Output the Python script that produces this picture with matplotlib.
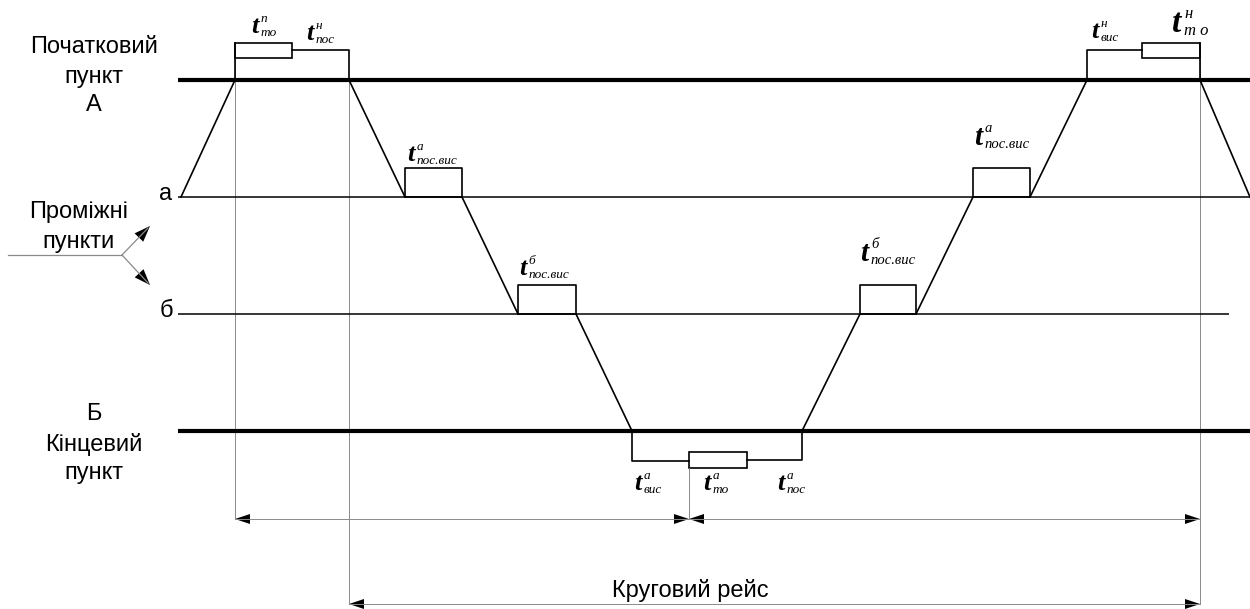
import matplotlib.pyplot as plt
from matplotlib.patches import Rectangle

# station levels (y, px from top) and where their lines end
station_y = {'А': 80, 'а': 197, 'б': 314, 'Б': 431}
line_end = {'А': 1250, 'а': 1250, 'б': 1229, 'Б': 1250}
line_lw = {'А': 3.0, 'а': 1.1, 'б': 1.1, 'Б': 3.0}

# train path: moments (x) and the station it is at
path_t = [181, 235, 349, 405, 462, 518, 576, 632, 802, 860, 916, 973, 1030, 1087, 1200, 1250]
path_s = ['а', 'А', 'А', 'а', 'а', 'б', 'б', 'Б', 'Б', 'б', 'б', 'а', 'а', 'А', 'А', 'а']

# stops at intermediate points: start, end, station
stop_t0 = [405, 518, 860, 973]
stop_t1 = [462, 576, 916, 1030]
stop_s = ['а', 'б', 'б', 'а']
stop_h = 29

# terminal operations: service box, and the polyline around it
box_x0 = [235, 689, 1142]
box_x1 = [292, 747, 1200]
box_y0 = [43, 452, 43]
box_y1 = [58, 468, 58]
term_x = [[235, 235], [292, 349, 349],
          [632, 632, 689], [747, 802, 802],
          [1087, 1087, 1142], [1200, 1200]]
term_y = [[80, 43], [50, 50, 80],
          [431, 461, 461], [460, 460, 431],
          [80, 50, 50], [43, 80]]

# thin grey guides
guide_x = [235, 349, 689, 1200]
guide_y0 = [58, 80, 468, 58]
guide_y1 = [519, 604, 519, 604]

# dimension arrows
dim_x0 = [235, 689, 349]
dim_x1 = [689, 1200, 1200]
dim_y = [519, 519, 604]

# time labels: x, baseline, superscript, subscript, size
lab_x = [251, 306, 407, 519, 860, 974, 1091, 1172, 634, 703, 777]
lab_y = [33, 40, 161, 275, 261, 145, 38, 32, 490, 490, 490]
lab_sup = ['п', 'н', 'а', 'б', 'б', 'а', 'н', 'н', 'а', 'а', 'а']
lab_sub = ['то', 'пос', 'пос.вис', 'пос.вис', 'пос.вис', 'пос.вис', 'вис', 'т о', 'вис', 'то', 'пос']
lab_size = [19, 19, 19, 19, 21, 21, 19, 24, 19, 19, 19]


def head(ax, x, y, dx, dy, length=14, half=5):
    # filled arrow head with tip at (x, y) pointing along (dx, dy)
    n = (dx ** 2 + dy ** 2) ** 0.5
    ux, uy = dx / n, dy / n
    bx, by = x - ux * length, y - uy * length
    px, py = -uy * half, ux * half
    ax.fill([x, bx + px, bx - px], [y, by + py, by - py], color='black', lw=0)


fig = plt.figure(figsize=(12.5, 6.09), dpi=100)
ax = fig.add_axes([0, 0, 1, 1])
ax.set_xlim(0, 1250)
ax.set_ylim(609, 0)
ax.axis('off')

sans = 'Liberation Sans'
serif = 'Liberation Serif'

# grey guides
for x, y0, y1 in zip(guide_x, guide_y0, guide_y1):
    ax.plot([x, x], [y0, y1], color='#8a8a8a', lw=0.7)

# station lines
for s, y in station_y.items():
    ax.plot([178, line_end[s]], [y, y], color='black', lw=line_lw[s], solid_capstyle='butt')

# path of the train
ax.plot(path_t, [station_y[s] for s in path_s], color='black', lw=1.2)

# stops at intermediate points
for t0, t1, s in zip(stop_t0, stop_t1, stop_s):
    y = station_y[s]
    ax.plot([t0, t0, t1, t1], [y, y - stop_h, y - stop_h, y], color='black', lw=1.2)

# terminal operations
for xs, ys in zip(term_x, term_y):
    ax.plot(xs, ys, color='black', lw=1.2)
for x0, x1, y0, y1 in zip(box_x0, box_x1, box_y0, box_y1):
    ax.add_patch(Rectangle((x0, y0), x1 - x0, y1 - y0, fill=False, ec='black', lw=1.2))

# dimension arrows
for x0, x1, y in zip(dim_x0, dim_x1, dim_y):
    ax.plot([x0, x1], [y, y], color='#8a8a8a', lw=0.7)
    head(ax, x0, y, -1, 0, length=15, half=5)
    head(ax, x1, y, 1, 0, length=15, half=5)

# "Проміжні пункти" pointer
ax.plot([8, 122], [255, 255], color='#8a8a8a', lw=0.9)
ax.plot([122, 148], [255, 228], color='#8a8a8a', lw=0.9)
ax.plot([122, 148], [255, 283], color='#8a8a8a', lw=0.9)
head(ax, 150, 226, 26, -27, length=16, half=6)
head(ax, 150, 285, 26, 28, length=16, half=6)

# station captions
fs = 17
ax.text(94, 47, 'Початковий', ha='center', va='center', fontsize=fs, family=sans)
ax.text(94, 77, 'пункт', ha='center', va='center', fontsize=fs, family=sans)
ax.text(94, 105, 'А', ha='center', va='center', fontsize=fs, family=sans)
ax.text(166, 194, 'а', ha='center', va='center', fontsize=fs, family=sans)
ax.text(166, 311, 'б', ha='center', va='center', fontsize=fs, family=sans)
ax.text(79, 212, 'Проміжні', ha='center', va='center', fontsize=fs, family=sans)
ax.text(79, 242, 'пункти', ha='center', va='center', fontsize=fs, family=sans)
ax.text(94, 414, 'Б', ha='center', va='center', fontsize=fs, family=sans)
ax.text(94, 444, 'Кінцевий', ha='center', va='center', fontsize=fs, family=sans)
ax.text(94, 473, 'пункт', ha='center', va='center', fontsize=fs, family=sans)
ax.text(690, 590, 'Круговий рейс', ha='center', va='center', fontsize=fs, family=sans)

# time labels
for x, y, sup, sub, size in zip(lab_x, lab_y, lab_sup, lab_sub, lab_size):
    ax.text(x, y, 't', ha='left', va='baseline', fontsize=size, family=serif,
            style='italic', weight='bold')
    dx = size * 0.52
    ax.text(x + dx, y - size * 0.6, sup, ha='left', va='baseline', fontsize=size * 0.5,
            family=serif, style='italic')
    ax.text(x + dx, y + 3, sub, ha='left', va='baseline', fontsize=size * 0.5,
            family=serif, style='italic')

fig.savefig('out.png', dpi=100)
